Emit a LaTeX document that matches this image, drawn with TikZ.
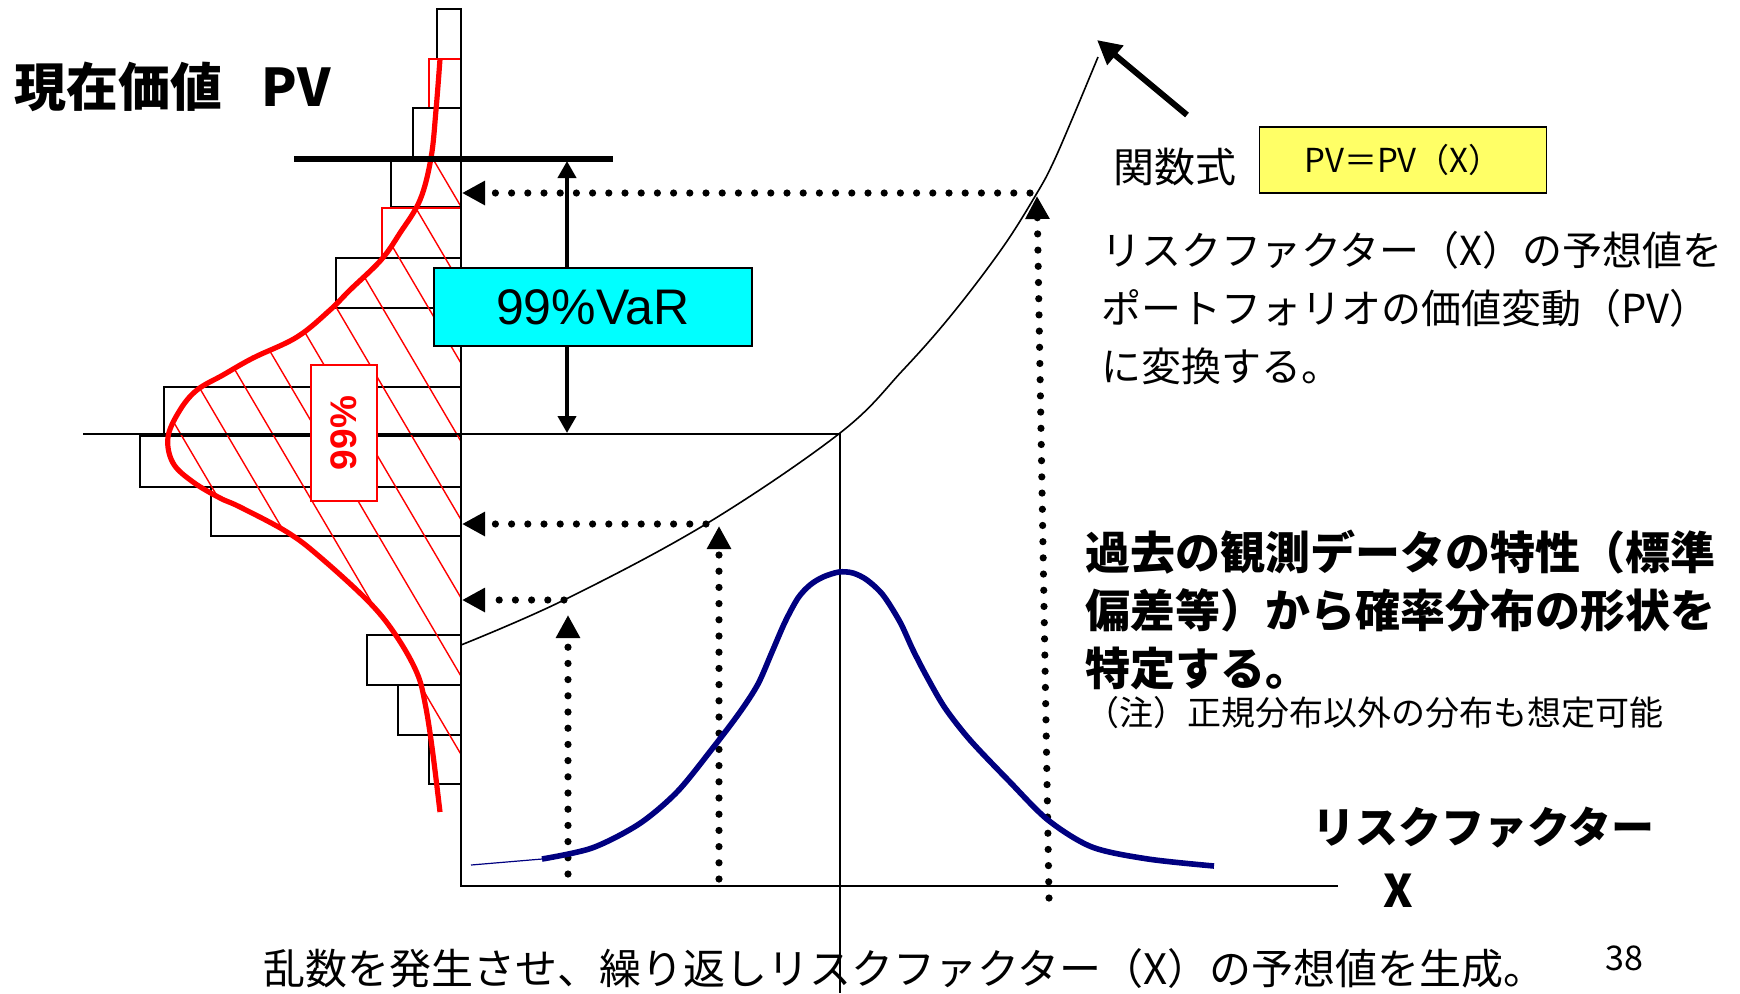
\documentclass[tikz,border=0pt]{standalone}
\usepackage{fontspec}
\setmainfont{Noto Sans CJK JP}
\newfontfamily\latinsans{Liberation Sans}
\usepackage{xcolor}
\usetikzlibrary{arrows.meta}
\definecolor{varCyan}{RGB}{0,255,255}
\definecolor{fnYellow}{RGB}{255,255,102}
\definecolor{distNavy}{RGB}{0,0,128}
\def\unit{0.5pt}
\tikzset{
	histbar/.style={draw=black, line width=0.9pt},
	histred/.style={draw=red, line width=0.9pt},
	hatchline/.style={red, line width=0.7pt},
	dotarrow/.style={line width=3.6pt, line cap=round, dash pattern=on 0pt off 8.1pt,
		arrows={-Triangle[length=11.5pt,width=11.5pt]}},
	txt/.style={inner sep=0pt, anchor=north west, align=left}
}

\begin{document}
\begin{tikzpicture}[x=\unit, y=-\unit]
	\useasboundingbox (0,0) rectangle (1740,993);

	\coordinate (O) at (461,886);
	\coordinate (Ytop) at (461,9);
	\coordinate (Xend) at (1338,886);
	\coordinate (P1) at (1030,193);
	\coordinate (P2) at (706,524);
	\coordinate (P3) at (564,600);
	\coordinate (Q1) at (462,193);
	\coordinate (Q2) at (462,524);
	\coordinate (Q3) at (462,600);
	\coordinate (R1) at (1049,898);
	\coordinate (R2) at (719,879);
	\coordinate (R3) at (568,874);
	\coordinate (S1) at (1037,196);
	\coordinate (S2) at (719,526);
	\coordinate (S3) at (568,615);
	\coordinate (VaRtop) at (567,161);
	\coordinate (VaRbot) at (567,433);
	\coordinate (Mleft) at (83,434);
	\coordinate (Mright) at (840,434);
	\coordinate (Mbot) at (840,993);
	\coordinate (Lleft) at (294,159);
	\coordinate (Lright) at (613,159);
	\coordinate (FnTail) at (1187,115);
	\coordinate (FnTip) at (1097,40);

	\draw[histbar] (437,9) rectangle (461,59);
	\draw[histred] (429,59) rectangle (461,108);
	\draw[histbar] (413,108) rectangle (461,158);
	\draw[histbar] (391,161) rectangle (461,207);
	\draw[histred] (382,208) rectangle (461,258);
	\draw[histbar] (336,258) rectangle (461,308);
	\draw[histbar] (164,387) rectangle (461,435);
	\draw[histbar] (140,436) rectangle (461,487);
	\draw[histbar] (211,487) rectangle (461,536);
	\draw[histbar] (367,635) rectangle (461,685);
	\draw[histbar] (398,685) rectangle (461,735);
	\draw[histbar] (429,735) rectangle (461,784);

	\begin{scope}
		\clip plot[smooth, tension=0.6] coordinates {(431,158) (420,200) (400,233) (381,260) (350,290)
			(330,310) (297,337) (253,358) (223,375) (197,390) (180,410) (168,437) (173,463) (193,482)
			(220,498) (240,507) (287,532) (320,557) (370,603) (397,637) (417,673) (425,703) (432,747)
			(436,784)} -- (461,784) -- (461,158) -- cycle;
		\draw[hatchline] (433,159) -- ++(368,626);
		\draw[hatchline] (387,159) -- ++(368,626);
		\draw[hatchline] (341,159) -- ++(368,626);
		\draw[hatchline] (295,159) -- ++(368,626);
		\draw[hatchline] (249,159) -- ++(368,626);
		\draw[hatchline] (203,159) -- ++(368,626);
		\draw[hatchline] (157,159) -- ++(368,626);
		\draw[hatchline] (111,159) -- ++(368,626);
		\draw[hatchline] (65,159) -- ++(368,626);
		\draw[hatchline] (19,159) -- ++(368,626);
	\end{scope}

	\draw[line width=1pt] (Mleft) -- (Mright) -- (Mbot);

	\draw[red, line width=2.6pt, line join=round] plot[smooth, tension=0.6] coordinates {(440,59)
		(436,110) (431,158) (420,200) (400,233) (381,260) (350,290) (330,310) (297,337) (253,358)
		(223,375) (197,390) (180,410) (168,437) (173,463) (193,482) (220,498) (240,507) (287,532)
		(320,557) (370,603) (397,637) (417,673) (425,703) (432,747) (440,812)};

	\node[draw=red, line width=0.9pt, fill=white, rotate=90, minimum width=68pt, minimum height=33pt,
		inner sep=0pt, text=red, font=\latinsans\bfseries\fontsize{18.5}{20}\selectfont]
		(conf) at (344,433) {99\%};

	\draw[line width=1pt] (Ytop) -- (O) -- (Xend);
	\draw[line width=3pt] (Lleft) -- (Lright);

	\draw[line width=2pt, arrows={Triangle[length=8.5pt,width=9pt]-Triangle[length=8.5pt,width=9pt]}]
		(VaRtop) -- (VaRbot);
	\node[draw, line width=0.9pt, fill=varCyan, minimum width=159pt, minimum height=39pt, inner sep=0pt,
		font=\latinsans\fontsize{25}{25}\selectfont] (var) at (593,307) {99\%VaR};

	\draw[line width=0.8pt] plot[smooth, tension=0.6] coordinates {(461,645) (564,600) (706,524)
		(840,433) (903,370) (953,313) (1003,247) (1037,193) (1053,163) (1073,117) (1098,57)};

	\draw[dotarrow] (P1) -- (Q1);
	\draw[dotarrow] (P2) -- (Q2);
	\draw[dotarrow] (P3) -- (Q3);
	\draw[dotarrow] (R1) -- (S1);
	\draw[dotarrow] (R2) -- (S2);
	\draw[dotarrow] (R3) -- (S3);

	\draw[distNavy, line width=0.6pt] (471,865) -- (542,859);
	\draw[distNavy, line width=2.8pt, line join=round] plot[smooth, tension=0.5] coordinates {(542,859)
		(592,848) (639,824) (677,792) (712,749) (740,712) (758,684) (772,652) (785,622) (798,598)
		(810,585) (823,577) (839,572) (853,573) (867,580) (883,595) (900,622) (913,650) (927,677)
		(945,708) (970,740) (1009,781) (1048,820) (1092,847) (1148,859) (1214,866)};

	\draw[line width=3pt, arrows={-Triangle[length=12pt,width=12pt]}] (FnTail) -- (FnTip);

	\node[txt, anchor=west, font=\bfseries\fontsize{26}{26}\selectfont] (title) at (14,87)
		{現在価値\hspace{0.75em}PV};
	\node[txt, anchor=west, font=\fontsize{20.5}{20.5}\selectfont] (fnLabel) at (1113,167) {関数式};
	\node[draw, line width=0.9pt, fill=fnYellow, minimum width=143.5pt, minimum height=33pt, inner sep=0pt,
		font=\fontsize{16.5}{16.5}\selectfont] (fnBox) at (1403,160) {PV＝PV（X）};
	\node[txt, font=\fontsize{20}{29}\selectfont] (mapText) at (1101,231)
		{リスクファクター（X）の予想値を\\ポートフォリオの価値変動（PV）\\に変換する。};
	\node[txt, font=\bfseries\fontsize{22.5}{29}\selectfont] (distText) at (1085,530)
		{過去の観測データの特性（標準\\偏差等）から確率分布の形状を\\特定する。};
	\node[txt, font=\fontsize{17}{17}\selectfont] (noteText) at (1085,696) {（注）正規分布以外の分布も想定可能};
	\node[txt, font=\bfseries\fontsize{21.5}{21.5}\selectfont] (rfLabel) at (1312,807) {リスクファクター};
	\node[txt, font=\bfseries\fontsize{22.5}{22.5}\selectfont] (rfX) at (1383,874) {X};
	\node[txt, font=\fontsize{21}{21}\selectfont] (simText) at (263,948)
		{乱数を発生させ、繰り返しリスクファクター（X）の予想値を生成。};
	\node[txt, font=\fontsize{17}{17}\selectfont] (pageNo) at (1605,945) {38};
\end{tikzpicture}
\end{document}
